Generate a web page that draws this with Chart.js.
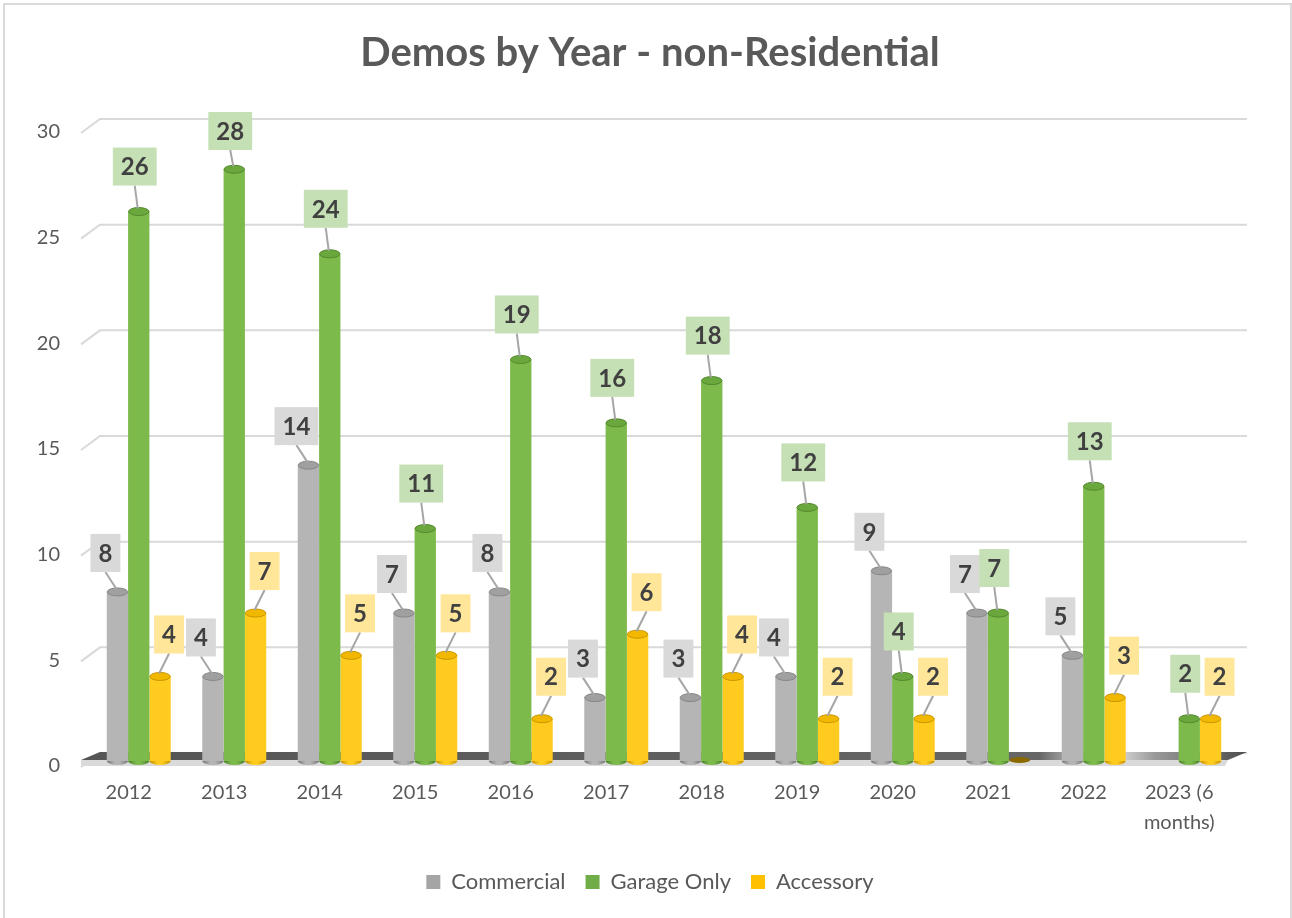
<!DOCTYPE html>
<html>
<head>
<meta charset="utf-8">
<script src="https://cdn.jsdelivr.net/npm/chart.js@4/dist/chart.umd.min.js"></script>
<style>
  html, body { margin: 0; padding: 0; background: #ffffff; }
  #wrap { width: 1292px; height: 918px; position: relative; }
</style>
</head>
<body>
<div id="wrap"><canvas id="c" width="1292" height="918"></canvas></div>
<script>
// ---- Data ----
const categories = ["2012", "2013", "2014", "2015", "2016", "2017", "2018", "2019", "2020", "2021", "2022", ["2023 (6", "months)"]];
const commercial = [8, 4, 14, 7, 8, 3, 3, 4, 9, 7, 5, null];
const garageOnly = [26, 28, 24, 11, 19, 16, 18, 12, 4, 7, 13, 2];
const accessory  = [4, 7, 5, 5, 2, 6, 4, 2, 2, 0, 3, 2];
const yTicks = [0, 5, 10, 15, 20, 25, 30];

const FONT = "Lato, 'Open Sans', sans-serif";
const TEXT = "#595959";

// style per series
const styles = [
  { edge: "#777777", mid: "#b5b5b5", cap: "#a0a0a0", capRim: "#878787", label: "#d9d9d9", legend: "#a5a5a5", dx: -12, dy: -39 },
  { edge: "#4b7f2a", mid: "#7dba4c", cap: "#6aa73c", capRim: "#54892f", label: "#c5e0b4", legend: "#70ad47", dx: -4, dy: -45 },
  { edge: "#c48f00", mid: "#ffcb1f", cap: "#f2b800", capRim: "#c99700", label: "#ffe699", legend: "#ffc000", dx: 9, dy: -42 }
];

function barGradient(ctx, s) {
  const el = ctx.element;
  const c = ctx.chart.ctx;
  if (!el || el.x === undefined || isNaN(el.x)) return s.mid;
  const w = el.width || 21;
  const g = c.createLinearGradient(el.x - w / 2, 0, el.x + w / 2, 0);
  g.addColorStop(0, s.edge);
  g.addColorStop(0.38, s.mid);
  g.addColorStop(0.6, s.mid);
  g.addColorStop(1, s.edge);
  return g;
}

const DEPTH_BACK = 8;   // px between bar plane and back wall

const decorPlugin = {
  id: "decor",
  afterLayout(chart) {
    // let the y tick labels extend left of the narrow axis box without being clipped
    const y = chart.scales.y;
    y.left = 0;
    y.width = y.right;
  },
  beforeDraw(chart) {
    const c = chart.ctx;
    c.save();
    c.fillStyle = "#ffffff";
    c.fillRect(0, 0, chart.width, chart.height);
    c.strokeStyle = "#d9d9d9";
    c.lineWidth = 2;
    c.strokeRect(4, 4, chart.width - 5, chart.height + 10);
    c.restore();
  },
  beforeDatasetsDraw(chart) {
    const c = chart.ctx;
    const y = chart.scales.y;
    const a = chart.chartArea;
    c.save();
    c.strokeStyle = "#d9d9d9";
    c.lineWidth = 2;
    y.ticks.forEach(t => {
      const yb = y.getPixelForValue(t.value) - DEPTH_BACK;
      c.beginPath();
      c.moveTo(a.left - 10, yb + 14);
      c.lineTo(a.left + 9, yb);
      c.lineTo(a.right + 10, yb);
      c.stroke();
    });
    const z = y.getPixelForValue(0);
    const g = c.createLinearGradient(a.left, 0, a.right + 10, 0);
    g.addColorStop(0, "#555555");
    g.addColorStop(0.82, "#666666");
    g.addColorStop(0.875, "#f2f2f2");
    g.addColorStop(0.92, "#9a9a9a");
    g.addColorStop(1, "#4d4d4d");
    c.fillStyle = g;
    c.beginPath();
    c.moveTo(a.left + 9, z - DEPTH_BACK - 1);
    c.lineTo(a.right + 10, z - DEPTH_BACK - 1);
    c.lineTo(a.right - 9, z - 1);
    c.lineTo(a.left - 10, z - 1);
    c.closePath();
    c.fill();
    c.fillStyle = "#dadada";
    c.beginPath();
    c.moveTo(a.left - 10, z - 1);
    c.lineTo(a.right - 9, z - 1);
    c.lineTo(a.right - 12, z + 5);
    c.lineTo(a.left - 10, z + 5);
    c.closePath();
    c.fill();
    c.restore();
  },
  afterDatasetsDraw(chart) {
    const c = chart.ctx;
    const y = chart.scales.y;
    const z = y.getPixelForValue(0);
    c.save();
    chart.data.datasets.forEach((ds, di) => {
      const s = styles[di];
      chart.getDatasetMeta(di).data.forEach((el, i) => {
        const v = ds.data[i];
        if (v === null || v === undefined) return;
        const w = el.width, x = el.x, top = el.y;
        const rx = w / 2, ry = 4;
        if (v === 0) {
          c.fillStyle = "#8a6a00";
          c.beginPath();
          c.ellipse(x, z - 1, rx, 3, 0, 0, Math.PI * 2);
          c.fill();
          return;
        }
        const g = c.createLinearGradient(x - rx, 0, x + rx, 0);
        g.addColorStop(0, s.edge); g.addColorStop(0.38, s.mid); g.addColorStop(0.6, s.mid); g.addColorStop(1, s.edge);
        c.fillStyle = g;
        c.beginPath();
        c.ellipse(x, z, rx, ry, 0, 0, Math.PI);
        c.fill();
        c.fillStyle = s.cap;
        c.strokeStyle = s.capRim;
        c.lineWidth = 1;
        c.beginPath();
        c.ellipse(x, top, rx - 0.5, ry, 0, 0, Math.PI * 2);
        c.fill();
        c.stroke();
      });
    });
    c.font = "bold 24px " + FONT;
    c.textAlign = "center";
    c.textBaseline = "middle";
    chart.data.datasets.forEach((ds, di) => {
      const s = styles[di];
      chart.getDatasetMeta(di).data.forEach((el, i) => {
        const v = ds.data[i];
        if (v === null || v === undefined || v === 0) return;
        const txt = String(v);
        const tw = c.measureText(txt).width;
        const bw = tw + 16, bh = 38;
        let cx = el.x + s.dx;
        let cy = el.y + s.dy;
        if (cy - bh / 2 < 112) cy = 112 + bh / 2;
        c.strokeStyle = "#a6a6a6";
        c.lineWidth = 2;
        c.beginPath();
        c.moveTo(cx, cy + bh / 2);
        c.lineTo(el.x - 1, el.y - 3);
        c.stroke();
        c.fillStyle = s.label;
        c.fillRect(cx - bw / 2, cy - bh / 2, bw, bh);
        c.fillStyle = "#404040";
        c.fillText(txt, cx, cy + 1);
      });
    });
    c.restore();
  }
};

const datasets = [
  { label: "Commercial", data: commercial },
  { label: "Garage Only", data: garageOnly },
  { label: "Accessory", data: accessory }
].map((d, i) => Object.assign(d, {
  backgroundColor: ctx => barGradient(ctx, styles[i]),
  borderWidth: 0,
  categoryPercentage: 0.67,
  barPercentage: 1.0
}));

new Chart(document.getElementById("c"), {
  type: "bar",
  data: { labels: categories, datasets },
  options: {
    responsive: false,
    animation: false,
    layout: { padding: { left: 63, right: 55, top: 0, bottom: 15 } },
    plugins: {
      title: {
        display: true,
        text: "Demos by Year - non-Residential",
        color: TEXT,
        font: { family: FONT, size: 40, weight: "bold" },
        padding: { top: 29, bottom: 50 }
      },
      legend: {
        position: "bottom",
        labels: {
          color: TEXT,
          font: { family: FONT, size: 22 },
          boxWidth: 14,
          boxHeight: 14,
          padding: 20,
          generateLabels: chart => chart.data.datasets.map((d, i) => ({
            text: d.label,
            fillStyle: styles[i].legend,
            strokeStyle: styles[i].legend,
            lineWidth: 0,
            fontColor: TEXT,
            datasetIndex: i
          }))
        }
      },
      tooltip: { enabled: false }
    },
    scales: {
      x: {
        grid: { display: false, drawTicks: false },
        border: { display: false },
        ticks: {
          color: TEXT,
          font: { family: FONT, size: 20, lineHeight: 1.5 },
          padding: 17,
          labelOffset: -10,
          maxRotation: 0,
          autoSkip: false
        },
        afterFit: s => { s.height = 90; }
      },
      y: {
        min: yTicks[0],
        max: yTicks[yTicks.length - 1],
        grid: { display: false, drawTicks: false },
        border: { display: false },
        ticks: {
          stepSize: yTicks[1] - yTicks[0],
          color: TEXT,
          font: { family: FONT, size: 20 },
          padding: 31,
          labelOffset: 5,
          autoSkip: false
        },
        afterFit: s => { s.width = 28; }
      }
    }
  },
  plugins: [decorPlugin]
});
</script>
</body>
</html>
